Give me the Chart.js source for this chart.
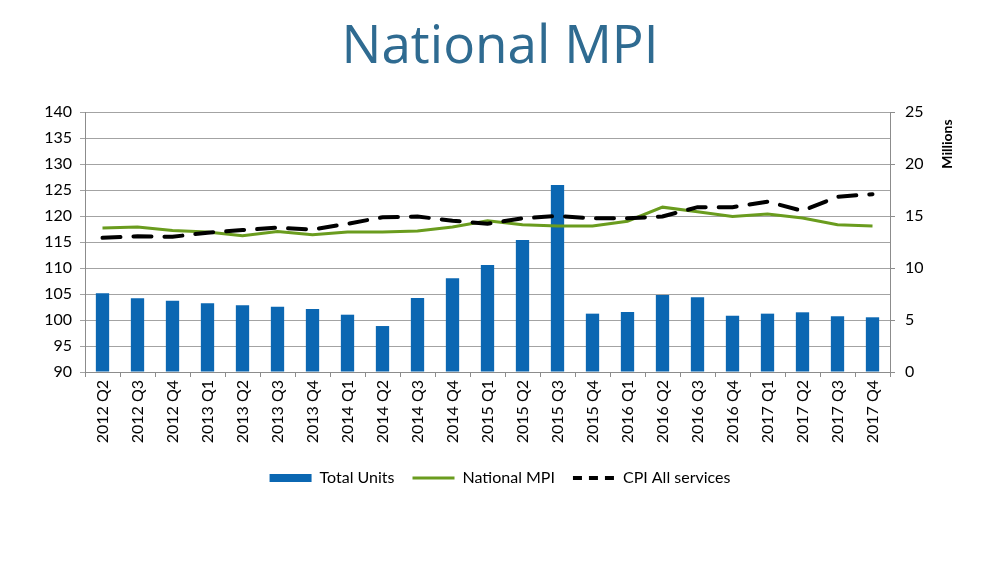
<!DOCTYPE html>
<html>
<head>
<meta charset="utf-8">
<script src="https://cdn.jsdelivr.net/npm/chart.js@4.4.1/dist/chart.umd.min.js"></script>
<style>
  html, body { margin: 0; padding: 0; background: #ffffff; }
  #wrap { width: 1000px; height: 567px; }
</style>
</head>
<body>
<div id="wrap"><canvas id="c" width="1000" height="567"></canvas></div>
<script>
// ---- data ----
const categories = [
  '2012 Q2','2012 Q3','2012 Q4','2013 Q1','2013 Q2','2013 Q3','2013 Q4',
  '2014 Q1','2014 Q2','2014 Q3','2014 Q4','2015 Q1','2015 Q2','2015 Q3',
  '2015 Q4','2016 Q1','2016 Q2','2016 Q3','2016 Q4','2017 Q1','2017 Q2',
  '2017 Q3','2017 Q4'
];
// Total Units, millions (right axis)
const totalUnits = [
  7.57, 7.09, 6.86, 6.60, 6.41, 6.28, 6.06,
  5.51, 4.42, 7.12, 9.01, 10.29, 12.69, 17.98,
  5.61, 5.77, 7.40, 7.18, 5.41, 5.61, 5.74,
  5.36, 5.26
];
// National MPI (left axis)
const nationalMPI = [
  117.7, 117.9, 117.2, 116.9, 116.2, 117.0, 116.4,
  116.9, 116.9, 117.1, 117.9, 119.1, 118.3, 118.1,
  118.1, 119.0, 121.7, 120.8, 119.9, 120.4, 119.6,
  118.3, 118.1
];
// CPI All services (left axis)
const cpiAllServices = [
  115.8, 116.1, 116.0, 116.8, 117.3, 117.75, 117.4,
  118.5, 119.75, 119.9, 119.1, 118.5, 119.55, 120.0,
  119.55, 119.55, 119.9, 121.7, 121.7, 122.75, 121.0,
  123.7, 124.2
];
const leftAxis = [90, 140, 5];   // min, max, step
const rightAxis = [0, 25, 5];    // min, max, step
const seriesNames = ['Total Units', 'National MPI', 'CPI All services'];
const chartTitle = 'National MPI';
const rightAxisTitle = 'Millions';

// ---- styles ----
const FONT = 'Lato';
const BAR_COLOR = '#0b67b2';
const MPI_COLOR = '#6a9c1e';
const CPI_COLOR = '#000000';
const AXIS_COLOR = '#8c8c8c';
const GRID_COLOR = '#a3a3a3';

const rightTitlePlugin = {
  id: 'rightTitle',
  afterDraw(chart) {
    const { ctx, chartArea } = chart;
    const s = chart.scales.y1;
    ctx.save();
    ctx.translate(s.left + 57, chartArea.top + 32);
    ctx.rotate(-Math.PI / 2);
    ctx.font = 'bold 14px ' + FONT;
    ctx.fillStyle = '#000';
    ctx.textAlign = 'center';
    ctx.textBaseline = 'middle';
    ctx.fillText(rightAxisTitle, 0, 0);
    ctx.restore();
  }
};

const datasets = [
  {
    type: 'bar',
    label: seriesNames[0],
    data: totalUnits,
    yAxisID: 'y1',
    backgroundColor: BAR_COLOR,
    borderWidth: 0,
    barPercentage: 0.38,
    categoryPercentage: 1.0,
    order: 3
  },
  {
    type: 'line',
    label: seriesNames[1],
    data: nationalMPI,
    yAxisID: 'y',
    borderColor: MPI_COLOR,
    backgroundColor: MPI_COLOR,
    borderWidth: 3,
    pointRadius: 0,
    tension: 0,
    order: 2
  },
  {
    type: 'line',
    label: seriesNames[2],
    data: cpiAllServices,
    yAxisID: 'y',
    borderColor: CPI_COLOR,
    backgroundColor: CPI_COLOR,
    borderWidth: 4,
    borderDash: [18, 13],
    borderCapStyle: 'round',
    pointRadius: 0,
    tension: 0,
    order: 1
  }
];

const legendStyles = [
  { pointStyle: 'rect', fillStyle: BAR_COLOR, strokeStyle: BAR_COLOR, lineWidth: 0, lineDash: [] },
  { pointStyle: 'line', fillStyle: MPI_COLOR, strokeStyle: MPI_COLOR, lineWidth: 3, lineDash: [] },
  { pointStyle: 'line', fillStyle: CPI_COLOR, strokeStyle: CPI_COLOR, lineWidth: 4, lineDash: [9, 7] }
];

new Chart(document.getElementById('c'), {
  data: { labels: categories, datasets },
  plugins: [rightTitlePlugin],
  options: {
    responsive: false,
    animation: false,
    devicePixelRatio: 1,
    layout: { padding: { left: 0, right: 0, top: 0, bottom: 71 } },
    plugins: {
      title: {
        display: true,
        text: chartTitle,
        color: '#2f6b91',
        font: { family: 'Open Sans', size: 53, weight: 'normal', lineHeight: 1.2 },
        padding: { top: 16, bottom: 32.4 }
      },
      legend: {
        position: 'bottom',
        labels: {
          usePointStyle: true,
          pointStyleWidth: 42,
          boxHeight: 8,
          padding: 18,
          color: '#000',
          font: { family: FONT, size: 16 },
          generateLabels(chart) {
            return chart.data.datasets.map((ds, i) => Object.assign({
              text: ds.label,
              datasetIndex: i,
              hidden: false,
              fontColor: '#000',
              lineCap: 'butt'
            }, legendStyles[i]));
          }
        }
      },
      tooltip: { enabled: false }
    },
    scales: {
      x: {
        offset: true,
        grid: { offset: true, drawOnChartArea: false, drawTicks: true, tickLength: 5, color: AXIS_COLOR },
        border: { color: AXIS_COLOR, width: 1 },
        ticks: { autoSkip: false, minRotation: 90, maxRotation: 90, padding: 3, color: '#000', font: { family: FONT, size: 16 } },
        afterFit(s) { s.height = 80; }
      },
      y: {
        position: 'left',
        min: leftAxis[0], max: leftAxis[1],
        ticks: { stepSize: leftAxis[2], padding: 8, color: '#000', font: { family: FONT, size: 16 } },
        grid: { color: GRID_COLOR, lineWidth: 1, drawTicks: true, tickLength: 5 },
        border: { color: AXIS_COLOR, width: 1 },
        afterFit(s) { s.width = 85; }
      },
      y1: {
        position: 'right',
        min: rightAxis[0], max: rightAxis[1],
        ticks: { stepSize: rightAxis[2], padding: 10, color: '#000', font: { family: FONT, size: 16 } },
        grid: { drawOnChartArea: false, drawTicks: true, tickLength: 5, color: AXIS_COLOR },
        border: { color: AXIS_COLOR, width: 1 },
        afterFit(s) { s.width = 110; }
      }
    }
  }
});
</script>
</body>
</html>
